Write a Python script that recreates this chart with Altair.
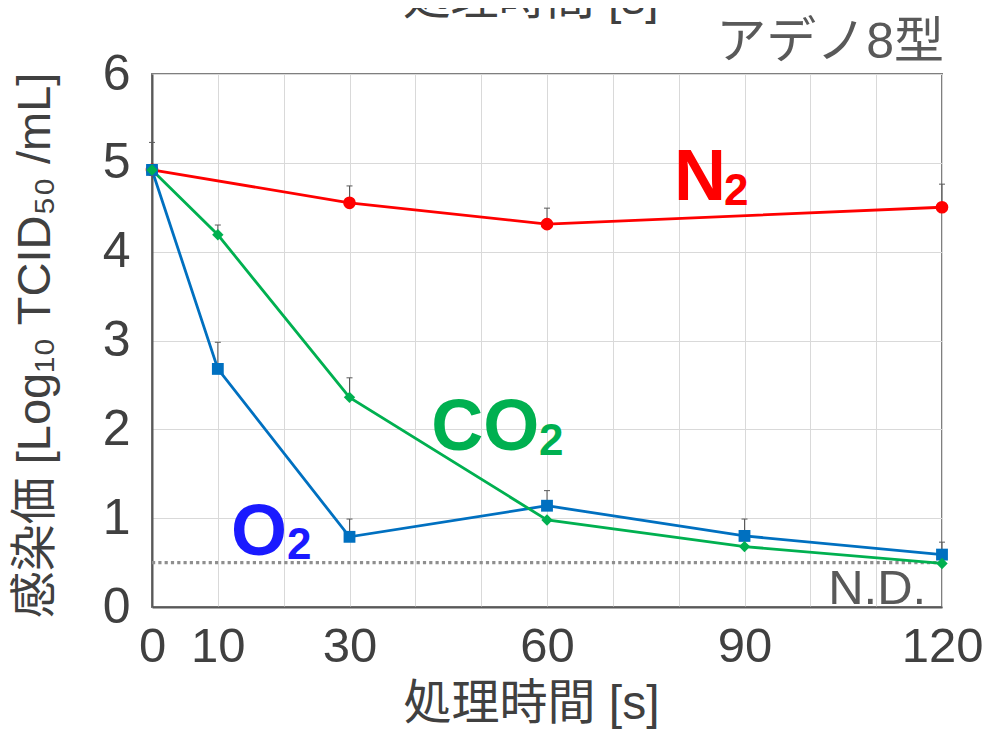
import altair as alt
import pandas as pd

# ---- data ----
times = [0, 10, 30, 60, 90, 120]
times_n2 = [0, 30, 60, 120]

n2_vals = [4.92, 4.55, 4.31, 4.50]
n2_err = [0.31, 0.19, 0.18, 0.26]

o2_vals = [4.92, 2.68, 0.79, 1.14, 0.80, 0.59]
o2_err = [0.0, 0.30, 0.20, 0.17, 0.19, 0.14]

co2_vals = [4.92, 4.19, 2.36, 0.98, 0.68, 0.49]
co2_err = [0.0, 0.11, 0.22, 0.0, 0.0, 0.0]

nd_level = 0.5

x_grid_values = list(range(0, 130, 10))
x_label_values = [0, 10, 30, 60, 90, 120]
y_values = [0, 1, 2, 3, 4, 5, 6]

# annotation pieces (data units)
bold_text = ["N", "2", "CO", "2", "O", "2"]
bold_x = [79.3, 86.9, 42.4, 58.8, 12.0, 20.5]
bold_y = [4.58, 4.52, 1.77, 1.71, 0.585, 0.54]
bold_size = [72, 44, 72, 44, 72, 44]
bold_color = ["#ff0000", "#ff0000", "#00b050", "#00b050", "#1a1aff", "#1a1aff"]

FONT = "Liberation Sans, Noto Sans CJK JP"
LATIN = "Liberation Sans"

series_styles = {
    "N2": dict(color="#ff0000", shape="circle", size=160),
    "O2": dict(color="#0070c0", shape="square", size=140),
    "CO2": dict(color="#00b050", shape="diamond", size=130),
}

def frame(ts, vs, es, name):
    return pd.DataFrame({"t": ts, "v": vs, "e": es,
                         "top": [v + e for v, e in zip(vs, es)],
                         "series": name})

df_n2 = frame(times_n2, n2_vals, n2_err, "N2")
df_o2 = frame(times, o2_vals, o2_err, "O2")
df_co2 = frame(times, co2_vals, co2_err, "CO2")
df_all = pd.concat([df_n2, df_o2, df_co2], ignore_index=True)

x_scale = alt.Scale(domain=[0, 120], nice=False, zero=False)
y_scale = alt.Scale(domain=[0, 6], nice=False)

label_expr = "indexof(" + str(x_label_values) + ", datum.value) >= 0 ? datum.label : ''"

X = alt.X("t:Q", scale=x_scale,
          axis=alt.Axis(values=x_grid_values, labelExpr=label_expr, title="処理時間 [s]",
                        grid=True, ticks=False, labelFontSize=49, labelPadding=15,
                        labelFlush=False, labelOverlap=False,
                        titleFontSize=48, titleX=379, titleY=97, titleBaseline="middle"))
Y = alt.Y("v:Q", scale=y_scale,
          axis=alt.Axis(values=y_values, format="d", title="感染価 [Log₁₀ TCID₅₀ /mL]",
                        grid=True, ticks=False, labelFontSize=50, labelPadding=22,
                        titleFontSize=47, titleX=-117, titleY=271, titleBaseline="middle"))

# N.D. dotted line
nd_df = pd.DataFrame({"t": [0, 120], "v": [nd_level, nd_level]})
nd_line = alt.Chart(nd_df).mark_line(color="#8f8f8f", strokeWidth=3.2, strokeDash=[3.2, 3.1]).encode(
    x=X, y=Y)

err_df = df_all[df_all["e"] > 0]
err_rule = alt.Chart(err_df).mark_rule(color="#595959", strokeWidth=1).encode(
    x=alt.X("t:Q", scale=x_scale), y=alt.Y("v:Q", scale=y_scale), y2="top:Q")
err_cap = alt.Chart(err_df).mark_tick(color="#595959", thickness=1, size=6, orient="horizontal", opacity=1).encode(
    x=alt.X("t:Q", scale=x_scale), y=alt.Y("top:Q", scale=y_scale))

layers = [nd_line, err_rule, err_cap]
for name, d in [("N2", df_n2), ("O2", df_o2), ("CO2", df_co2)]:
    st = series_styles[name]
    layers.append(alt.Chart(d).mark_line(color=st["color"], strokeWidth=2.8).encode(
        x=alt.X("t:Q", scale=x_scale), y=alt.Y("v:Q", scale=y_scale)))
for name, d in [("N2", df_n2), ("O2", df_o2), ("CO2", df_co2)]:
    st = series_styles[name]
    layers.append(alt.Chart(d).mark_point(color=st["color"], filled=True, opacity=1,
                                          shape=st["shape"], size=st["size"]).encode(
        x=alt.X("t:Q", scale=x_scale), y=alt.Y("v:Q", scale=y_scale)))

bold_df = pd.DataFrame({"text": bold_text, "t": bold_x, "v": bold_y,
                        "size": bold_size, "color": bold_color})
bold_layer = alt.Chart(bold_df).mark_text(font=LATIN, fontWeight="bold", align="left",
                                          baseline="alphabetic").encode(
    x=alt.X("t:Q", scale=x_scale), y=alt.Y("v:Q", scale=y_scale), text="text:N",
    size=alt.Size("size:Q", scale=None), color=alt.Color("color:N", scale=None))
layers.append(bold_layer)

nd_text = alt.Chart(pd.DataFrame({"text": ["N.D."], "t": [117.6], "v": [0.03]})).mark_text(
    font=LATIN, fontSize=49, color="#595959", align="right", baseline="alphabetic").encode(
    x=alt.X("t:Q", scale=x_scale), y=alt.Y("v:Q", scale=y_scale), text="text:N")
layers.append(nd_text)

type_text = alt.Chart(pd.DataFrame({"text": ["アデノ8型"], "t": [120.3], "v": [6.18]})).mark_text(
    font=FONT, fontSize=50, color="#595959", align="right", baseline="alphabetic").encode(
    x=alt.X("t:Q", scale=x_scale), y=alt.Y("v:Q", scale=y_scale), text="text:N")
layers.append(type_text)

# cropped duplicate of the axis title at the very top
top_text = alt.Chart(pd.DataFrame({"text": ["処理時間 [s]"], "t": [57.5], "v": [6.56]})).mark_text(
    font=FONT, fontSize=48, color="#404040", align="center", baseline="bottom").encode(
    x=alt.X("t:Q", scale=x_scale), y=alt.Y("v:Q", scale=y_scale), text="text:N")
layers.append(top_text)

chart = alt.layer(*layers).properties(
    width=790, height=533,
    autosize=alt.AutoSizeParams(type="none"),
    padding={"left": 144, "top": 66, "right": 41, "bottom": 122},
).configure_view(
    stroke="#7f7f7f", strokeWidth=2
).configure_axis(
    labelFont=LATIN, titleFont=FONT, labelColor="#404040", titleColor="#404040",
    titleFontWeight="normal", gridColor="#d9d9d9", gridWidth=1,
    domainColor="#595959", domainWidth=2
)

chart.save("out.html", embed_options={"renderer": "svg", "actions": False})
